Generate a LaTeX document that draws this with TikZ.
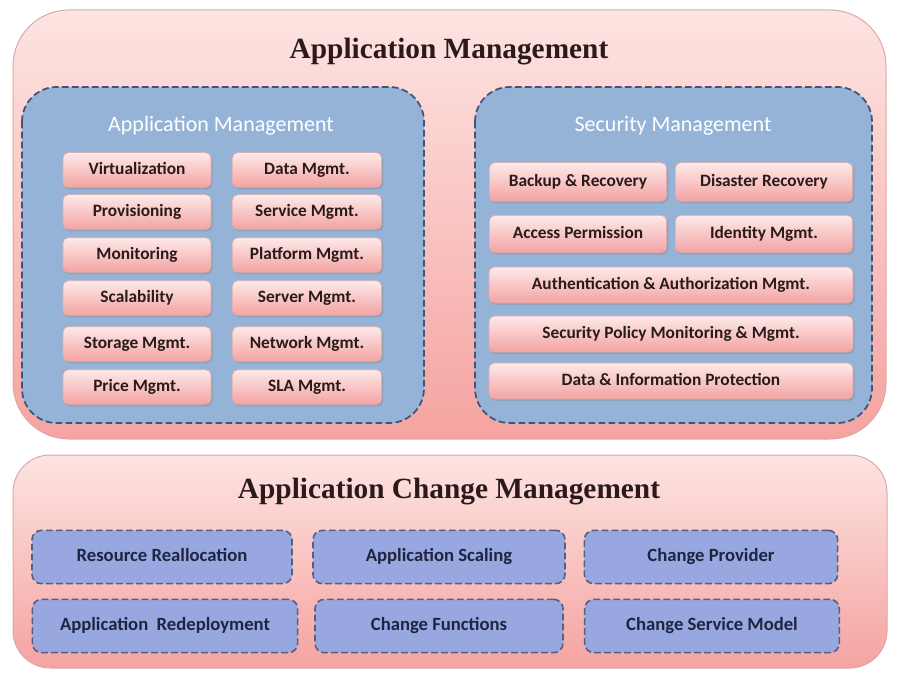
\documentclass[tikz,border=0pt]{standalone}
\usepackage{fontspec}
\setmainfont{Liberation Serif}
\setsansfont{Carlito}
\usetikzlibrary{shadows}

\definecolor{outerTop}{HTML}{FDE4E2}
\definecolor{outerBot}{HTML}{F5A3A0}
\definecolor{outerLine}{HTML}{D9A9A7}
\definecolor{groupFill}{HTML}{95B3D7}
\definecolor{groupLine}{HTML}{3F5578}
\definecolor{itemTop}{HTML}{FDEAE9}
\definecolor{itemBot}{HTML}{F2A3A2}
\definecolor{itemLine}{HTML}{E2A9A8}
\definecolor{changeFill}{HTML}{98A7E0}
\definecolor{changeLine}{HTML}{585E7E}
\definecolor{inkDark}{HTML}{2A1A1A}
\definecolor{inkBlue}{HTML}{1E2540}

\tikzset{every picture/.style={line width=0.75pt}}
\tikzset{
  bigtitle/.style={inner sep=0.75pt, text=inkDark, font=\fontsize{22}{26}\selectfont\bfseries},
  grouptitle/.style={inner sep=0.75pt, text=white, font=\sffamily\fontsize{16.5}{19}\selectfont},
  item/.style={rectangle, rounded corners=4pt, draw=itemLine, line width=0.5pt,
    top color=itemTop, bottom color=itemBot, text=inkDark,
    drop shadow={shadow xshift=1.2pt, shadow yshift=-1.5pt, opacity=0.35},
    minimum height=26pt, inner sep=1pt, text height=9pt, text depth=2.5pt,
    font=\sffamily\bfseries\fontsize{13}{15}\selectfont},
  changeitem/.style={rectangle, rounded corners=7pt, draw=changeLine, dashed, dash pattern=on 5pt off 2.5pt,
    line width=1.2pt, fill=changeFill, text=inkBlue, minimum height=40pt, inner sep=1pt,
    text height=9.5pt, text depth=2.5pt, font=\sffamily\bfseries\fontsize{14}{16}\selectfont},
}

\begin{document}
\begin{tikzpicture}[x=0.75pt,y=0.75pt,yscale=-1,xscale=1]
\useasboundingbox (0,0) rectangle (898,677);

%Shape: Rounded Rect (top panel)
\draw [draw=outerLine, top color=outerTop, bottom color=outerBot, rounded corners=42pt] (13,10) rectangle (886,439);
%Shape: Rounded Rect (bottom panel)
\draw [draw=outerLine, top color=outerTop, bottom color=outerBot, rounded corners=28pt] (13,455) rectangle (887,668);
%Shape: Rounded Rect (left group)
\draw [draw=groupLine, dash pattern=on 5pt off 2.5pt, line width=1.3pt, fill=groupFill, rounded corners=26pt] (22,87) rectangle (424,423);
%Shape: Rounded Rect (right group)
\draw [draw=groupLine, dash pattern=on 5pt off 2.5pt, line width=1.3pt, fill=groupFill, rounded corners=26pt] (475,87) rectangle (872,423);

% Text Node
\node [bigtitle] (amtitle) at (449,52) {Application Management};
% Text Node
\node [grouptitle] (apptitle) at (221,126) {Application Management};
% Text Node
\node [grouptitle] (sectitle) at (673,126) {Security Management};

% Left column
\node [item, minimum width=111pt] (virt) at (137,170) {Virtualization};
\node [item, minimum width=111pt] (prov) at (137,212) {Provisioning};
\node [item, minimum width=111pt] (moni) at (137,255) {Monitoring};
\node [item, minimum width=111pt] (scal) at (137,298) {Scalability};
\node [item, minimum width=111pt] (stor) at (137,344) {Storage Mgmt.};
\node [item, minimum width=111pt] (price) at (137,387) {Price Mgmt.};
% Right column
\node [item, minimum width=112pt] (data) at (307,170) {Data Mgmt.};
\node [item, minimum width=112pt] (serv) at (307,212) {Service Mgmt.};
\node [item, minimum width=112pt] (plat) at (307,255) {Platform Mgmt.};
\node [item, minimum width=112pt] (server) at (307,298) {Server Mgmt.};
\node [item, minimum width=112pt] (netw) at (307,344) {Network Mgmt.};
\node [item, minimum width=112pt] (sla) at (307,387) {SLA Mgmt.};

% Security items
\node [item, minimum width=133pt, minimum height=29pt] (backup) at (578,182) {Backup \& Recovery};
\node [item, minimum width=133pt, minimum height=29pt] (disaster) at (764,182) {Disaster Recovery};
\node [item, minimum width=133pt, minimum height=28pt] (access) at (578,234) {Access Permission};
\node [item, minimum width=133pt, minimum height=28pt] (ident) at (764,234) {Identity Mgmt.};
\node [item, minimum width=273pt, minimum height=27pt] (authn) at (671,285) {Authentication \& Authorization Mgmt.};
\node [item, minimum width=273pt, minimum height=27pt] (policy) at (671,334) {Security Policy Monitoring \& Mgmt.};
\node [item, minimum width=273pt, minimum height=27pt] (protect) at (671,381) {Data \& Information Protection};

% Text Node
\node [bigtitle] (chtitle) at (449,492) {Application Change Management};

% Change items
\node [changeitem, minimum width=195pt] (realloc) at (162,557) {Resource Reallocation};
\node [changeitem, minimum width=199pt] (redeploy) at (165,626) {Application\ \ Redeployment};
\node [changeitem, minimum width=189pt] (scaling) at (439,557) {Application Scaling};
\node [changeitem, minimum width=186pt] (funcs) at (439,626) {Change Functions};
\node [changeitem, minimum width=190pt] (provider) at (711,557) {Change Provider};
\node [changeitem, minimum width=191pt] (model) at (712,626) {Change Service Model};

\end{tikzpicture}
\end{document}
